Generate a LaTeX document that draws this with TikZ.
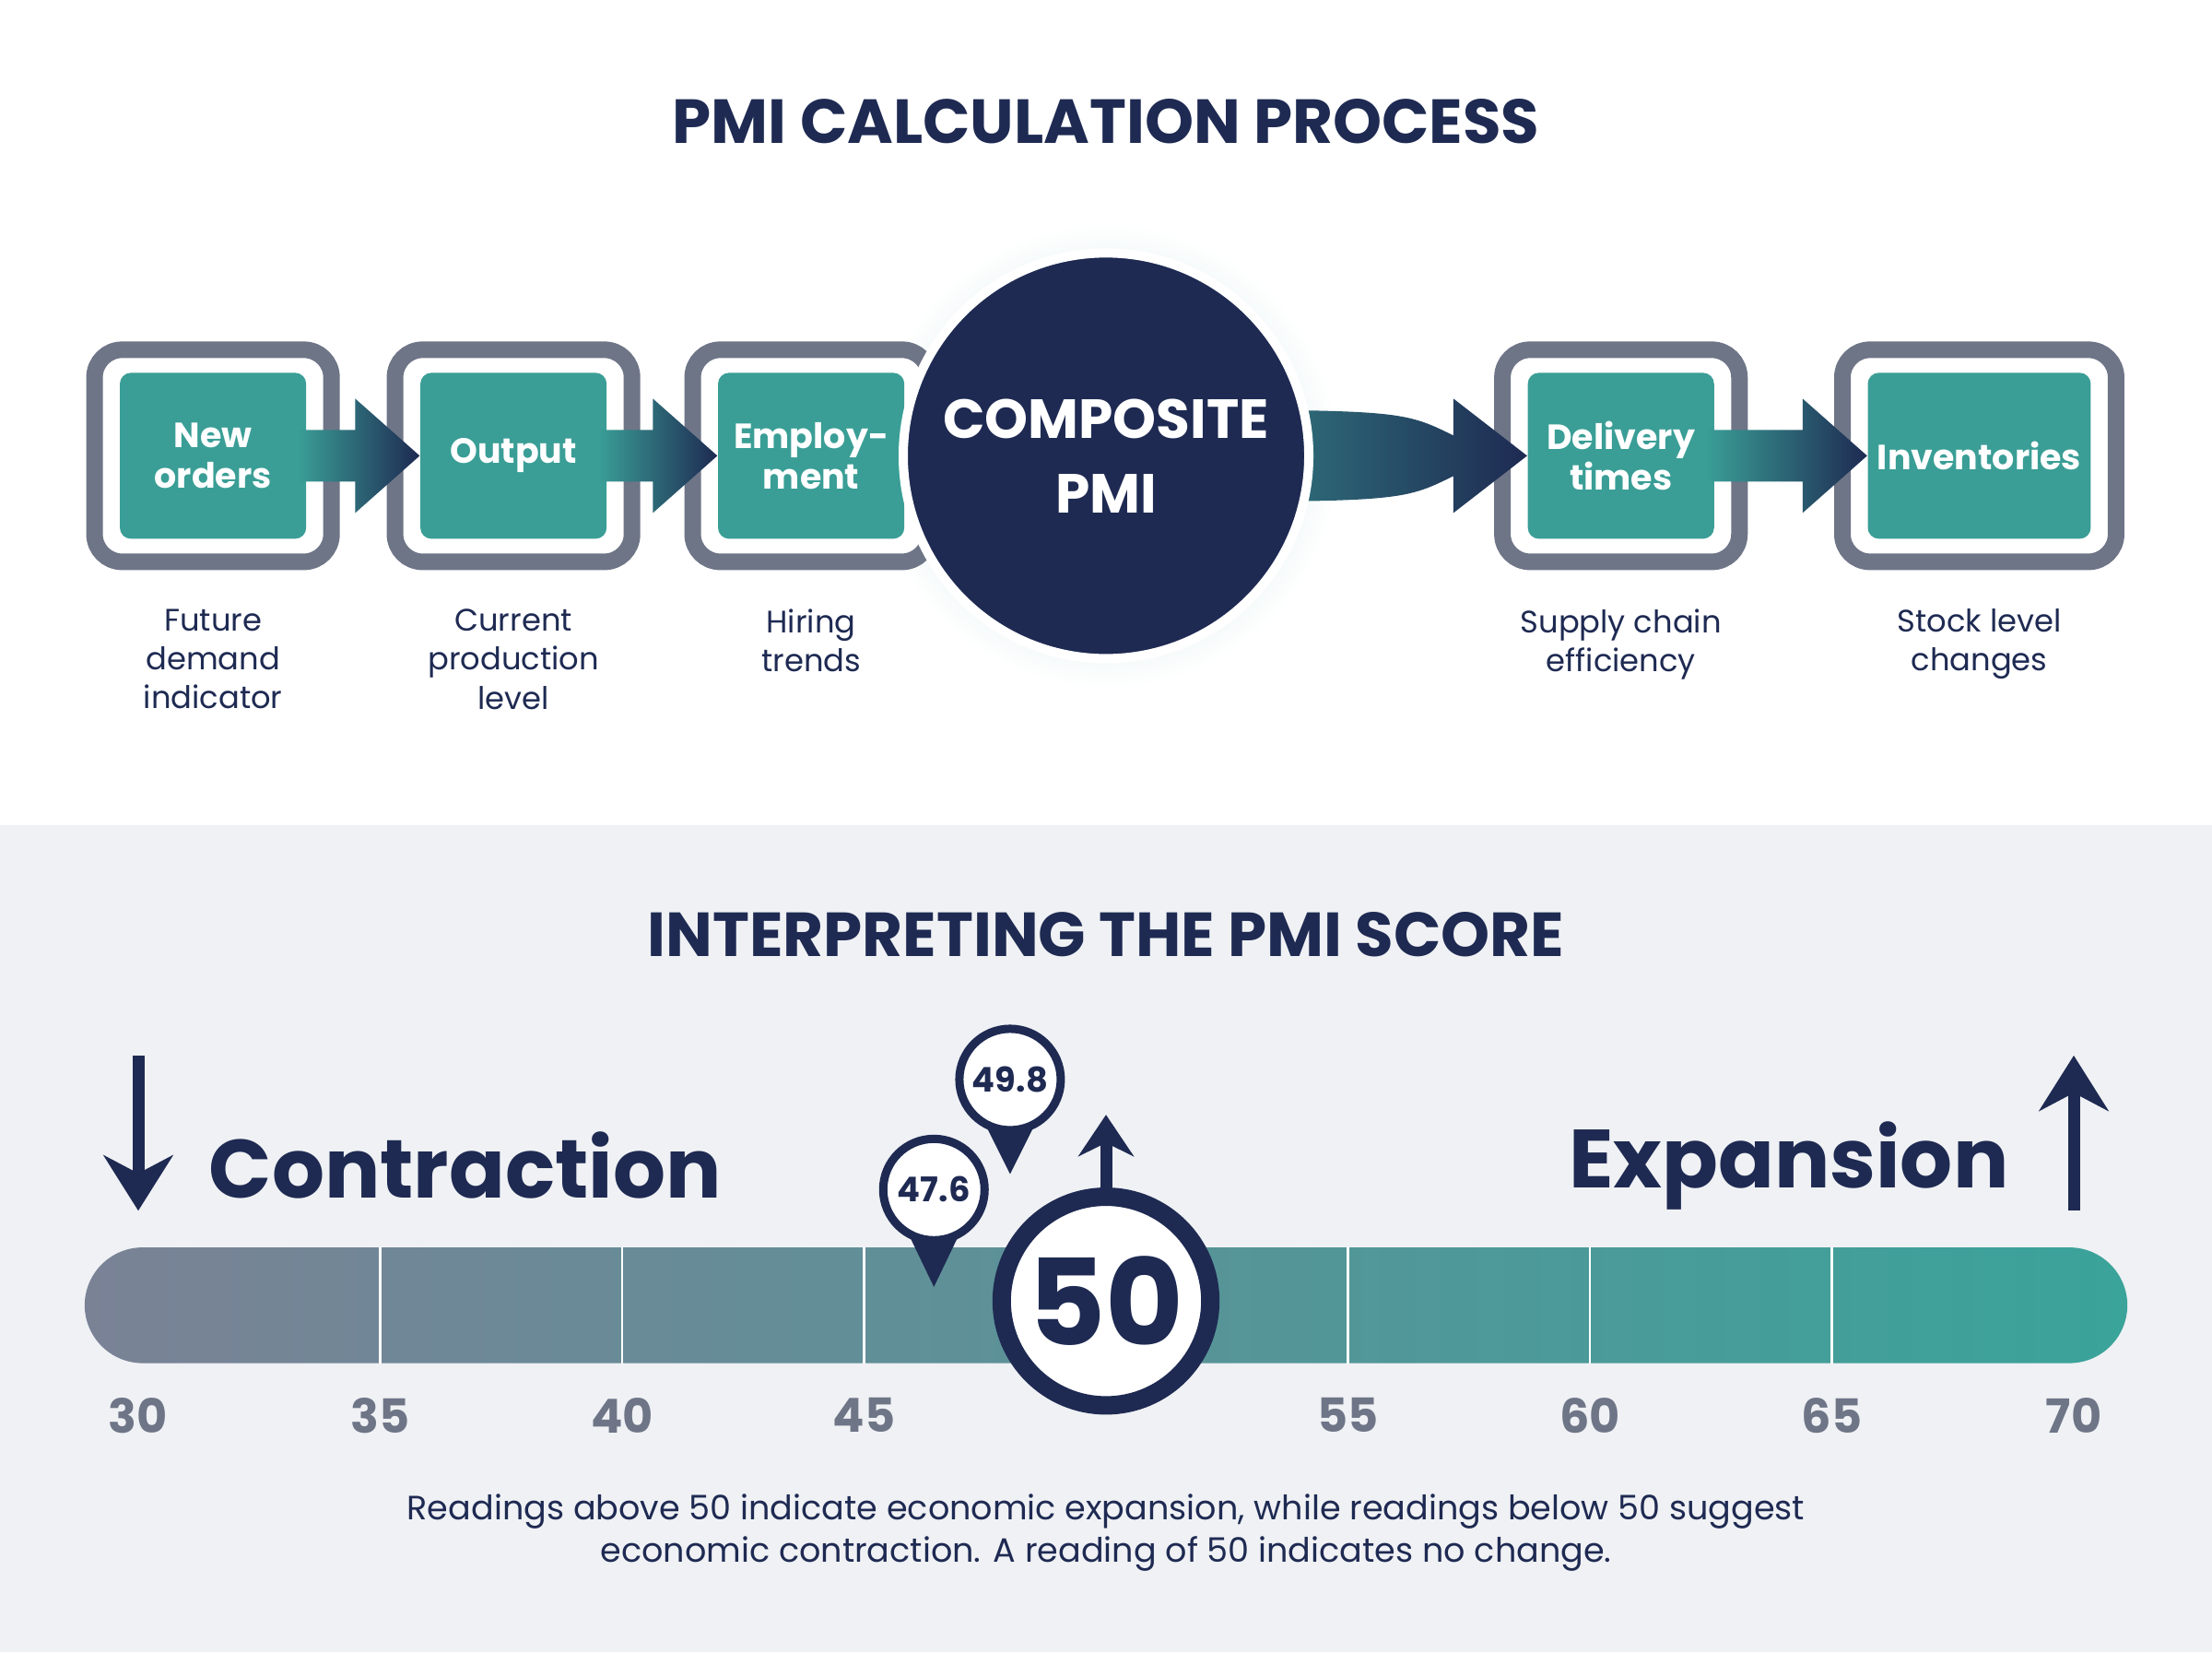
\documentclass[tikz,border=0pt]{standalone}
\usepackage{fontspec}
\setmainfont{Poppins}
\usetikzlibrary{positioning,calc,arrows.meta}
\definecolor{navy}{HTML}{1E2A52}
\definecolor{tealc}{HTML}{3A9E96}
\definecolor{frame}{HTML}{6E7587}
\definecolor{paleg}{HTML}{EFF1F4}
\definecolor{barl}{HTML}{7A8296}
\definecolor{barr}{HTML}{3AA39A}
\begin{document}
\begin{tikzpicture}[x=0.0153cm,y=-0.0153cm,
  every node/.style={align=center},
  outerbox/.style={draw=frame,line width=0.18cm,fill=white,rounded corners=0.3cm,inner sep=0pt},
  stagebox/.style={fill=tealc,rounded corners=0.12cm,text=white,font=\bfseries\fontsize{10.8}{12.5}\selectfont,inner sep=0pt},
  note/.style={text=navy,font=\fontsize{9.6}{12}\selectfont},
  flow/.style={left color=tealc,right color=navy},
  tick/.style={text=frame,font=\bfseries\fontsize{14.5}{16}\selectfont},
  pin/.style={circle,draw=navy,line width=0.09cm,fill=white,minimum size=1.1cm,inner sep=0pt,text=navy,font=\bfseries\fontsize{10.5}{12}\selectfont}]

\useasboundingbox (0,0) rectangle (1568,1171);
\fill[white] (0,0) rectangle (1568,585);
\fill[paleg] (0,585) rectangle (1568,1171);

%titles
\node[text=navy,font=\bfseries\fontsize{19.2}{24}\selectfont] (t1) at (784,86) {PMI CALCULATION PROCESS};
\node[text=navy,font=\bfseries\fontsize{19.2}{24}\selectfont] (t2) at (784,662) {INTERPRETING THE PMI SCORE};

%glow behind the composite circle
\shade[inner color=tealc!40,outer color=white] (784,323) circle (165);

%stage boxes
\foreach \n/\x/\w/\t in {no/151/168/New\\orders, out/364/168/Output, emp/575/168/Employ-\\ment, del/1149/168/Delivery\\times, inv/1403/194/Inventories} {
  \node[outerbox,minimum width=\w*0.0153cm,minimum height=2.3cm] (\n o) at (\x,323) {};
  \node[stagebox,minimum width=\w*0.0153cm-0.55cm,minimum height=1.8cm] (\n) at (\x,323) {\t};
}

%arrows between stages
\foreach \a/\b in {no/out, out/emp, del/inv}
  \shade[flow] let \p1=(\a.east),\p2=(\b.west) in
    ({\x1-0.1cm},{\y1+0.28cm}) -- ({\x2-0.7cm},{\y1+0.28cm}) -- ({\x2-0.7cm},{\y1+0.62cm}) -- (\x2,\y1)
    -- ({\x2-0.7cm},{\y1-0.62cm}) -- ({\x2-0.7cm},{\y1-0.28cm}) -- ({\x1-0.1cm},{\y1-0.28cm}) -- cycle;
\coordinate (pc) at (784,323);
\shade[flow] let \p1=(pc),\p2=(del.west) in
    (\x1,{\y1+0.5cm}) .. controls ({\x1+3.2cm},{\y1+0.5cm}) .. ({\x2-0.8cm},{\y1+0.22cm}) -- ({\x2-0.8cm},{\y1+0.62cm}) -- (\x2,\y1)
    -- ({\x2-0.8cm},{\y1-0.62cm}) -- ({\x2-0.8cm},{\y1-0.22cm}) .. controls ({\x1+3.2cm},{\y1-0.5cm}) .. (\x1,{\y1-0.5cm}) -- cycle;

%composite circle
\node[circle,fill=navy,draw=white,line width=0.1cm,minimum size=4.4cm,text=white,font=\bfseries\fontsize{17}{23}\selectfont] (pmi) at (pc) {COMPOSITE\\PMI};

%notes
\node[note,below=0.3cm of noo] {Future\\demand\\indicator};
\node[note,below=0.3cm of outo] {Current\\production\\level};
\node[note,below=0.3cm of empo] {Hiring\\trends};
\node[note,below=0.3cm of delo] {Supply chain\\efficiency};
\node[note,below=0.3cm of invo] {Stock level\\changes};

%scale bar
\shade[left color=barl,right color=barr,rounded corners=0.63cm] (60,884) rectangle (1508,966);
\foreach \v in {35,40,...,65}
  \draw[white,line width=0.6pt] ({98+(\v-30)*34.3},884) -- ({98+(\v-30)*34.3},966);
\foreach \v in {30,35,...,45,55,60,...,70}
  \node[tick] (s\v) at ({98+(\v-30)*34.3},1003) {\v};

%contraction / expansion
\coordinate (ct) at (98,748);
\coordinate (cb) at (98,858);
\draw[navy,line width=0.13cm,-{Stealth[length=0.6cm,width=0.75cm]}] (ct) -- (cb);
\node[text=navy,anchor=west,font=\bfseries\fontsize{25.5}{30}\selectfont] (con) at (140,826) {Contraction};
\coordinate (et) at (1470,748);
\coordinate (eb) at (1470,858);
\draw[navy,line width=0.13cm,-{Stealth[length=0.6cm,width=0.75cm]}] (eb) -- (et);
\node[text=navy,anchor=east,font=\bfseries\fontsize{25.5}{30}\selectfont] (exp) at (1432,826) {Expansion};

%readings
\coordinate (p1) at (662,912);
\coordinate (p2) at (716,832);
\fill[navy] (637,860) -- (p1) -- (687,860) -- cycle;
\node[pin] (r1) at (662,843) {47.6};
\fill[navy] (691,782) -- (p2) -- (741,782) -- cycle;
\node[pin] (r2) at (716,765) {49.8};

%fifty
\node[circle,draw=navy,line width=0.2cm,fill=white,minimum size=2.2cm,text=navy,font=\bfseries\fontsize{37}{40}\selectfont] (fifty) at (784,922) {50};
\coordinate (up) at (784,790);
\draw[navy,line width=0.13cm,-{Stealth[length=0.45cm,width=0.6cm]}] (fifty.north) -- (up);

%footer
\node[text=navy,font=\fontsize{10.4}{13}\selectfont] (foot) at (784,1086) {Readings above 50 indicate economic expansion, while readings below 50 suggest\\economic contraction. A reading of 50 indicates no change.};
\end{tikzpicture}
\end{document}
